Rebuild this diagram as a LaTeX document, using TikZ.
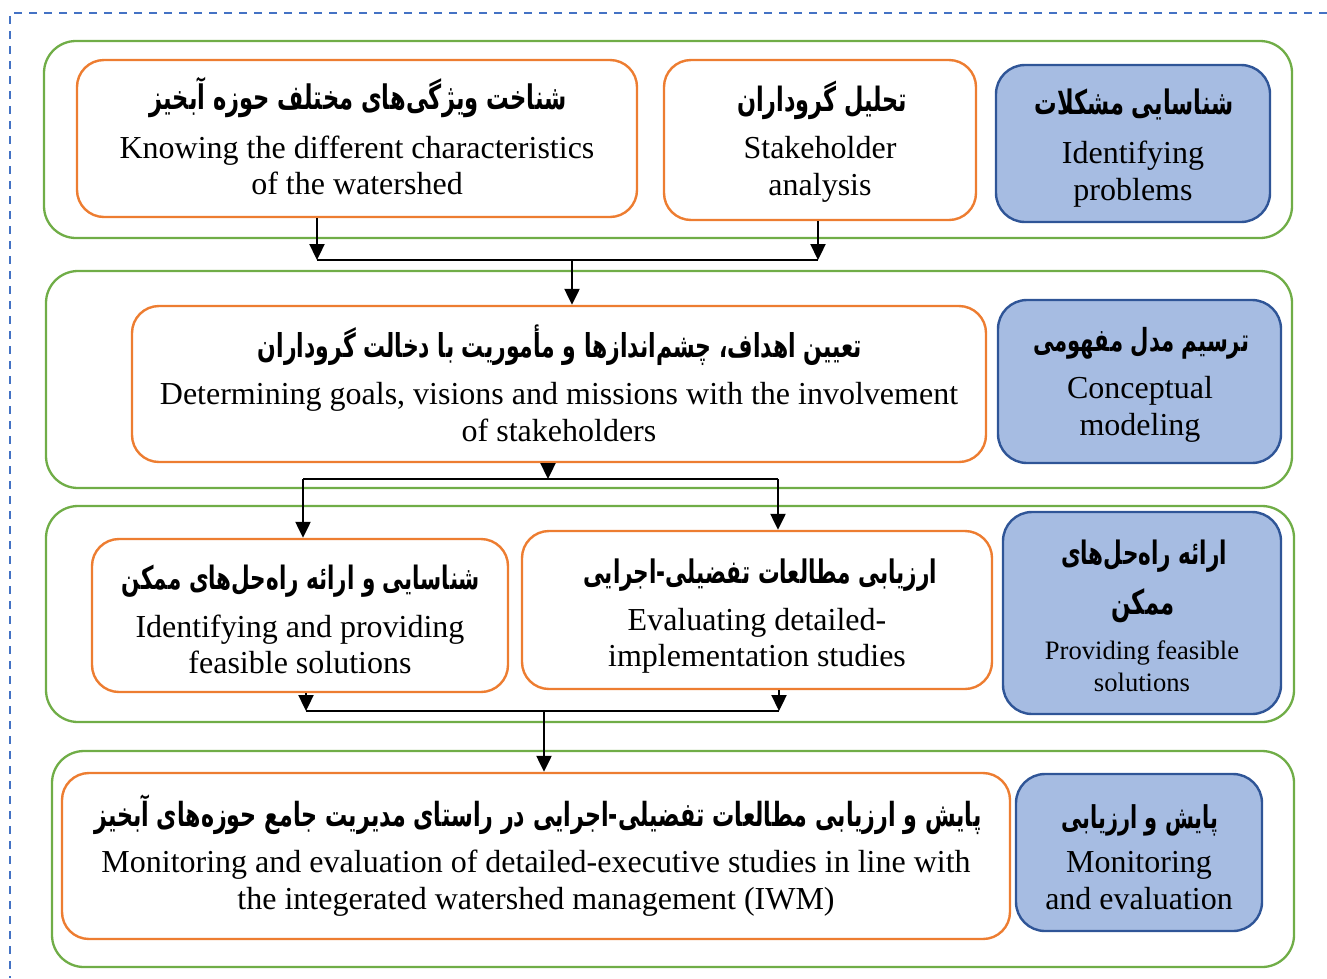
\documentclass[tikz,border=0pt]{standalone}
\usepackage{fontspec}
\usepackage{graphicx}
\setmainfont{Liberation Serif}
\newfontfamily\fa[Script=Arabic]{DejaVu Sans}
\TeXXeTstate=1
\usetikzlibrary{arrows.meta}
\definecolor{grn}{HTML}{70AD47}
\definecolor{org}{HTML}{ED7D31}
\definecolor{bfl}{HTML}{A6BCE2}
\definecolor{bbd}{HTML}{2F5597}
\definecolor{dsh}{HTML}{4472C4}
\newcommand\boxat[6]{\node[#6, minimum width={#4-#2}, minimum height={#5-#3}] (#1) at ({(#2+#4)/2},{(#3+#5)/2}) {};}
\newcommand\fatxt[2]{\scalebox{1}[1.5]{\resizebox{#1pt}{!}{\fa\bfseries #2}}}
\tikzset{
  grp/.style={draw=grn, line width=2.3pt, rounded corners=32pt, inner sep=0pt},
  obox/.style={draw=org, line width=2.4pt, rounded corners=27pt, fill=white, inner sep=0pt},
  bbox/.style={draw=bbd, fill=bfl, line width=2.4pt, rounded corners=29pt, inner sep=0pt},
  en/.style={font=\fontsize{32}{37}\selectfont, anchor=base, inner sep=0pt},
  ens/.style={font=\fontsize{26.6}{32}\selectfont, anchor=base, inner sep=0pt},
  fat/.style={font=\fontsize{24}{28}\selectfont, anchor=base, inner sep=0pt},
  conn/.style={line width=2.3pt, black},
  arr/.style={conn, -{Triangle[length=16pt,width=15pt]}},
  dashb/.style={draw=dsh, line width=2.6pt, dash pattern=on 8pt off 7pt},
}
\begin{document}
\begin{tikzpicture}[x=1pt,y=-1pt]
\useasboundingbox (0,0) rectangle (1327,978);
% dashed frame
\coordinate (dtr) at (1327,13);
\coordinate (dtl) at (10,13);
\coordinate (dbl) at (10,978);
\draw[dashb] (dtr) -- (dtl) -- (dbl);
% groups
\boxat{g1}{44}{41}{1292}{238}{grp}
\boxat{g2}{46}{271}{1292}{488}{grp}
\boxat{g3}{46}{506}{1294}{722}{grp}
\boxat{g4}{52}{751}{1294}{967}{grp}
% boxes
\boxat{b1}{77}{60}{637}{217}{obox}
\boxat{b2}{664}{60}{976}{220}{obox}
\boxat{p1}{996}{65}{1270}{222}{bbox}
\boxat{b3}{132}{306}{986}{462}{obox}
\boxat{p2}{998}{300}{1281}{463}{bbox}
\boxat{b4}{92}{539}{508}{692}{obox}
\boxat{b5}{522}{531}{992}{689}{obox}
\boxat{p3}{1003}{512}{1281}{714}{bbox}
\boxat{b6}{62}{773}{1010}{939}{obox}
\boxat{p4}{1016}{774}{1262}{931}{bbox}
% texts
\node[fat] (b1f) at (358,109) {\fatxt{417}{\beginR شناخت ویژگی‌های مختلف حوزه آبخیز\endR}};
\node[en] (b1e) at (357,158) {Knowing the different characteristics};
\node[en] (b1g) at (357,194) {of the watershed};
\node[fat] (b2f) at (822,111) {\fatxt{170}{\beginR تحلیل گروداران\endR}};
\node[en] (b2e) at (820,158) {Stakeholder};
\node[en] (b2g) at (820,195) {analysis};
\node[fat] (p1f) at (1134,114) {\fatxt{199}{\beginR شناسایی مشکلات\endR}};
\node[en] (p1e) at (1133,163) {Identifying};
\node[en] (p1g) at (1133,200) {problems};
\node[fat] (b3f) at (560,357) {\fatxt{604}{\beginR تعیین اهداف، چشم‌اندازها و مأموریت با دخالت گروداران\endR}};
\node[en] (b3e) at (559,404) {Determining goals, visions and missions with the involvement};
\node[en] (b3g) at (559,441) {of stakeholders};
\node[fat] (p2f) at (1141,351) {\fatxt{216}{\beginR ترسیم مدل مفهومی\endR}};
\node[en] (p2e) at (1140,398) {Conceptual};
\node[en] (p2g) at (1140,435) {modeling};
\node[fat] (b4f) at (301,589) {\fatxt{358}{\beginR شناسایی و ارائه راه‌حل‌های ممکن\endR}};
\node[en] (b4e) at (300,637) {Identifying and providing};
\node[en] (b4g) at (300,673) {feasible solutions};
\node[fat] (b5f) at (760,583) {\fatxt{354}{\beginR ارزیابی مطالعات تفضیلی-اجرایی\endR}};
\node[en] (b5e) at (757,630) {Evaluating detailed-};
\node[en] (b5g) at (757,666) {implementation studies};
\node[fat] (p3f) at (1144,564) {\fatxt{166}{\beginR ارائه راه‌حل‌های\endR}};
\node[fat] (p3h) at (1143,614) {\fatxt{63}{\beginR ممکن\endR}};
\node[ens] (p3e) at (1142,659) {Providing feasible};
\node[ens] (p3g) at (1142,691) {solutions};
\node[fat] (b6f) at (538,826) {\fatxt{887}{\beginR پایش و ارزیابی مطالعات تفضیلی-اجرایی در راستای مدیریت جامع حوزه‌های آبخیز\endR}};
\node[en] (b6e) at (536,872) {Monitoring and evaluation of detailed-executive studies in line with};
\node[en] (b6g) at (536,909) {the integerated watershed management (IWM)};
\node[fat] (p4f) at (1140,828) {\fatxt{157}{\beginR پایش و ارزیابی\endR}};
\node[en] (p4e) at (1139,872) {Monitoring};
\node[en] (p4g) at (1139,909) {and evaluation};
% connectors row 1 -> 2
\coordinate (j1) at (317,260);
\coordinate (j2) at (818,260);
\coordinate (j3) at (572,260);
\draw[arr] (b1.south -| j1) -- (j1);
\draw[arr] (b2.south -| j2) -- (j2);
\draw[conn] (j1) -- (j2);
\draw[arr] (j3) -- (b3.north -| j3);
% row 2 -> 3
\coordinate (k0) at (548,479);
\coordinate (k1) at (303,479);
\coordinate (k2) at (778,479);
\draw[arr] (b3.south -| k0) -- (k0);
\draw[conn] (k1) -- (k2);
\draw[arr] (k1) -- (b4.north -| k1);
\draw[arr] (k2) -- (b5.north -| k2);
% row 3 -> 4
\coordinate (m1) at (306,711);
\coordinate (m2) at (779,711);
\coordinate (m0) at (544,711);
\draw[arr] (b4.south -| m1) -- (m1);
\draw[arr] (b5.south -| m2) -- (m2);
\draw[conn] (m1) -- (m2);
\draw[arr] (m0) -- (b6.north -| m0);
\end{tikzpicture}
\end{document}
